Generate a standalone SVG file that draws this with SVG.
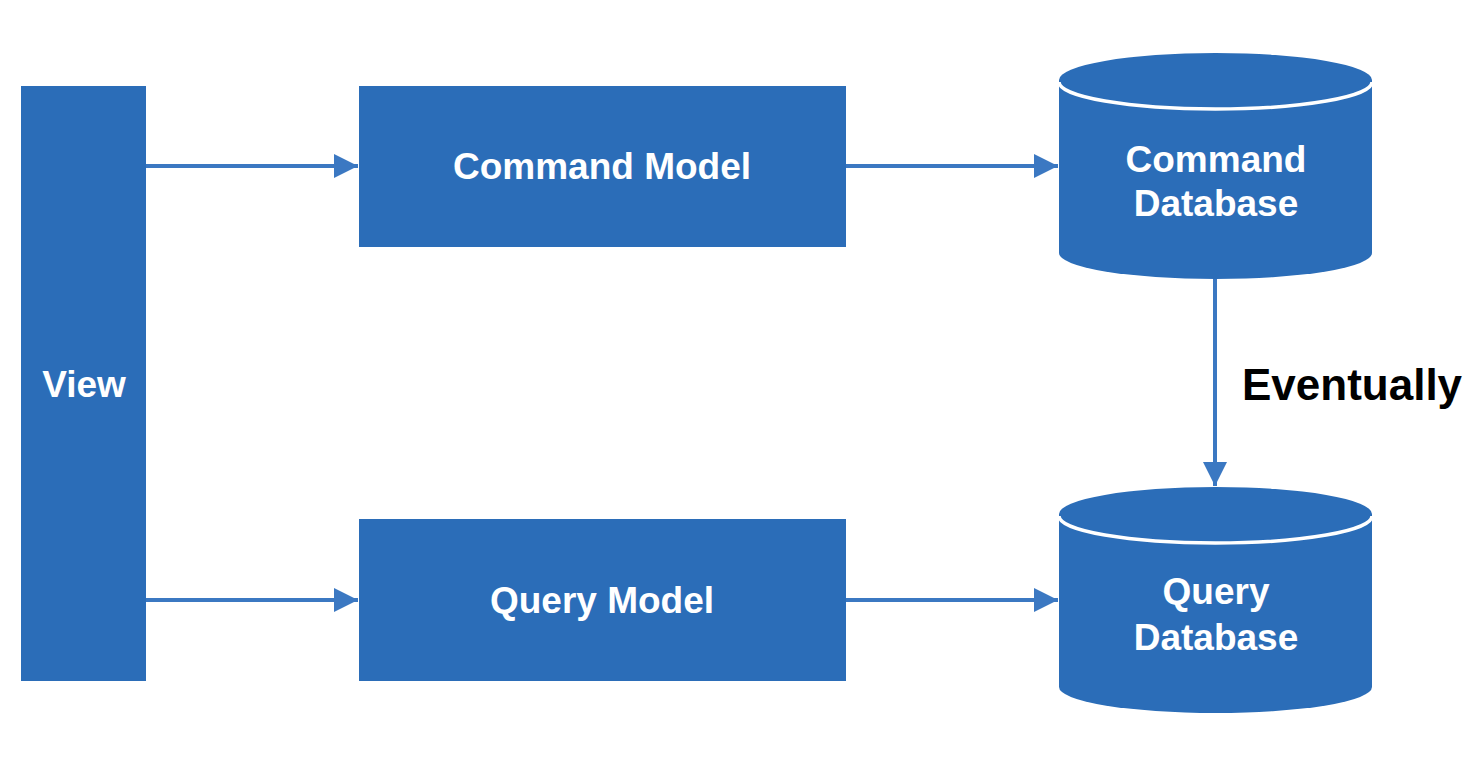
<svg xmlns="http://www.w3.org/2000/svg" width="1480" height="764" viewBox="0 0 1480 764">
<style>
.node{fill:#2B6DB8}
.lbl{fill:#fff;font-family:"Liberation Sans",Arial,sans-serif;font-weight:bold;font-size:37px;text-anchor:middle}
.edge{stroke:#3B78C2;stroke-width:4;fill:none}
.rim{fill:none;stroke:#fff;stroke-width:3.5}
</style>
<defs>
<marker id="ah" markerUnits="userSpaceOnUse" markerWidth="26" markerHeight="24" refX="24" refY="12" orient="auto">
<path d="M0,0 L24,12 L0,24 Z" fill="#3B78C2"/>
</marker>
</defs>
<rect width="1480" height="764" fill="#fff"/>
<g id="edges">
<line class="edge" x1="146" y1="166" x2="358" y2="166" marker-end="url(#ah)"/>
<line class="edge" x1="846" y1="166" x2="1058" y2="166" marker-end="url(#ah)"/>
<line class="edge" x1="146" y1="600" x2="358" y2="600" marker-end="url(#ah)"/>
<line class="edge" x1="846" y1="600" x2="1058" y2="600" marker-end="url(#ah)"/>
<line class="edge" x1="1215" y1="279" x2="1215" y2="486" marker-end="url(#ah)"/>
</g>
<g id="view">
<rect class="node" x="21" y="86" width="125" height="595"/>
<text class="lbl" x="84" y="397">View</text>
</g>
<g id="command-model">
<rect class="node" x="359" y="86" width="487" height="161"/>
<text class="lbl" x="602" y="179">Command Model</text>
</g>
<g id="query-model">
<rect class="node" x="359" y="519" width="487" height="162"/>
<text class="lbl" x="602" y="613">Query Model</text>
</g>
<g id="command-db">
<path class="node" d="M1059,80 A156.5,27 0 0 1 1372,80 L1372,253 A156.5,26 0 0 1 1059,253 Z"/>
<path class="rim" d="M1059,82 A156.5,27 0 0 0 1372,82"/>
<text class="lbl" x="1216" y="172">Command</text>
<text class="lbl" x="1216" y="216">Database</text>
</g>
<g id="query-db">
<path class="node" d="M1059,514 A156.5,27 0 0 1 1372,514 L1372,687 A156.5,26 0 0 1 1059,687 Z"/>
<path class="rim" d="M1059,516 A156.5,27 0 0 0 1372,516"/>
<text class="lbl" x="1216" y="604">Query</text>
<text class="lbl" x="1216" y="650">Database</text>
</g>
<text x="1242" y="400" font-family="'Liberation Sans',Arial,sans-serif" font-weight="bold" font-size="44" fill="#000">Eventually</text>
</svg>
